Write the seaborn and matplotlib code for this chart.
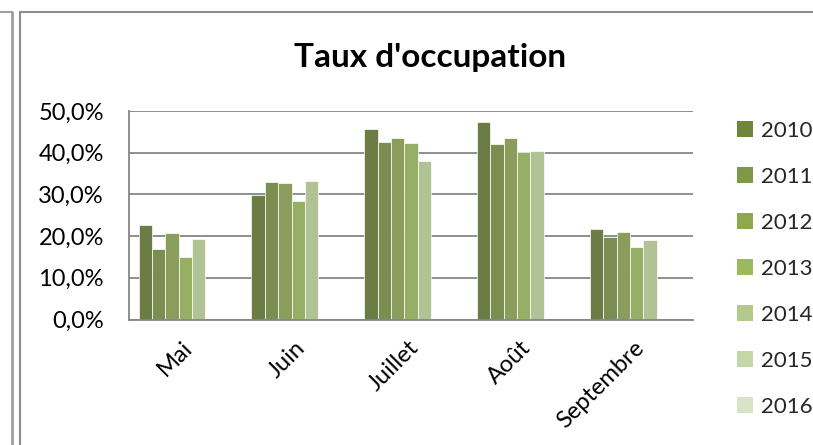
import numpy as np
import pandas as pd
import matplotlib
matplotlib.use("Agg")
import matplotlib.pyplot as plt
import matplotlib.transforms as mtransforms
import seaborn as sns
from matplotlib.patches import Patch
from matplotlib.lines import Line2D
from matplotlib.ticker import FuncFormatter

months = ["Mai", "Juin", "Juillet", "Août", "Septembre"]
years = ["2010", "2011", "2012", "2013", "2014", "2015", "2016"]
v2010 = [0.226, 0.299, 0.457, 0.473, 0.218]
v2011 = [0.169, 0.329, 0.425, 0.422, 0.197]
v2012 = [0.208, 0.328, 0.435, 0.436, 0.211]
v2013 = [0.149, 0.283, 0.424, 0.402, 0.173]
v2014 = [0.193, 0.331, 0.381, 0.404, 0.190]
v2015 = [np.nan] * 5
v2016 = [np.nan] * 5
colors = ["#6f853b", "#7f9848", "#8ea852", "#9bbb59", "#b3c98d", "#c5d6a9", "#d7e4c5"]

series = [v2010, v2011, v2012, v2013, v2014, v2015, v2016]
rows = []
for y, vals in zip(years, series):
    for m, v in zip(months, vals):
        rows.append({"Mois": m, "Année": y, "Taux": v})
df = pd.DataFrame(rows)

sns.set_theme(style="white")
plt.rcParams["font.family"] = ["Lato", "DejaVu Sans"]

W, H = 813, 445
fig = plt.figure(figsize=(W / 100, H / 100), dpi=100)
fig.patch.set_facecolor("white")

ax = fig.add_axes([129 / W, 1 - 319.5 / H, (693 - 129) / W, (319.5 - 111) / H])
palette = dict(zip(years, colors))
sns.barplot(data=df, x="Mois", y="Taux", hue="Année", hue_order=years,
            order=months, palette=palette, width=0.83, ax=ax,
            edgecolor="white", linewidth=0.5, errorbar=None, legend=False)

ax.set_ylim(0, 0.5)
ax.set_xlim(-0.5, len(months) - 0.5)
ax.set_yticks(np.arange(0, 0.51, 0.1))
ax.yaxis.set_major_formatter(FuncFormatter(lambda v, p: f"{v*100:.1f}%".replace(".", ",")))
ax.grid(axis="y", color="#868686", linewidth=1.3)
ax.set_axisbelow(True)
for s in ["top", "right"]:
    ax.spines[s].set_visible(False)
for s in ["left", "bottom"]:
    ax.spines[s].set_color("#868686")
    ax.spines[s].set_linewidth(1.3)
ax.set_xlabel("")
ax.set_ylabel("")
ax.tick_params(axis="y", labelsize=17, length=0, pad=18, colors="black")
ax.tick_params(axis="x", labelsize=17, length=0, pad=18, colors="black")
offset = mtransforms.ScaledTranslation(4 / 100, 0, fig.dpi_scale_trans)
for lab in ax.get_xticklabels():
    lab.set_rotation(45)
    lab.set_ha("right")
    lab.set_rotation_mode("anchor")
    lab.set_va("center")
    lab.set_transform(lab.get_transform() + offset)

fig.text(430 / W, 1 - 57 / H, "Taux d'occupation", ha="center", va="center",
         fontsize=24, fontweight="bold", color="black")

handles = [Patch(facecolor=c, edgecolor="none") for c in colors]
fig.legend(handles, years, loc="upper left", bbox_to_anchor=(728 / W, 1 - 112 / H),
           frameon=False, fontsize=16, handlelength=0.72, handleheight=0.72,
           handletextpad=0.35, labelspacing=1.17, borderaxespad=0)

# chart frames
gray = "#a0a0a0"
fig.add_artist(Line2D([20 / W, 20 / W], [0, 1 - 12 / H], color="#8c8c8c", lw=1.5, transform=fig.transFigure))
fig.add_artist(Line2D([20 / W, 1], [1 - 12 / H, 1 - 12 / H], color="#8c8c8c", lw=1.5, transform=fig.transFigure))
fig.add_artist(Line2D([12 / W, 12 / W], [0, 1 - 12 / H], color=gray, lw=2, transform=fig.transFigure))
fig.add_artist(Line2D([0, 12 / W], [1 - 12 / H, 1 - 12 / H], color=gray, lw=1.5, transform=fig.transFigure))

fig.savefig("out.png", dpi=100, facecolor="white")
